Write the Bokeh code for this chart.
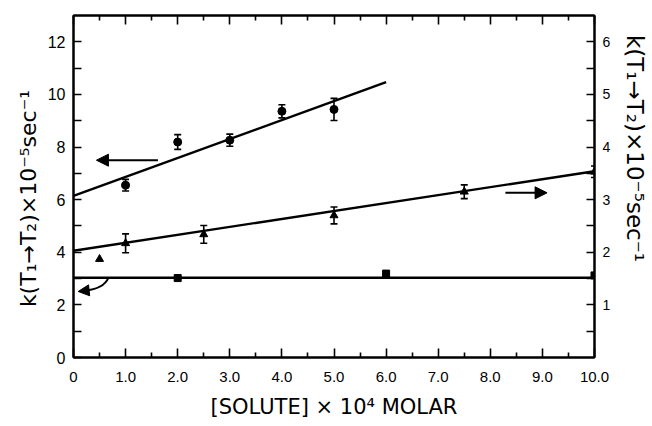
import math
from bokeh.plotting import figure
from bokeh.models import (ColumnDataSource, Range1d, LinearAxis, FixedTicker, Whisker,
                          TeeHead, Arrow, NormalHead, Label)
from bokeh.embed import file_html
from bokeh.resources import INLINE

# ---------------- data ----------------
conc_circle = [1.0, 2.0, 3.0, 4.0, 5.0]
k_circle = [6.55, 8.19, 8.26, 9.36, 9.43]          # left axis
err_circle = [0.22, 0.28, 0.23, 0.25, 0.42]

conc_tri = [0.5, 1.0, 2.5, 5.0, 7.5, 10.0]
k_tri = [1.87, 2.17, 2.34, 2.70, 3.15, 3.53]       # right axis
err_tri = [0.0, 0.18, 0.17, 0.16, 0.13, 0.11]

conc_sq = [2.0, 6.0, 10.0]
k_sq = [3.02, 3.19, 3.12]                           # left axis

fit_circle_x = [0.0, 6.0]
fit_circle_y = [6.14, 10.47]
fit_tri_x = [0.0, 10.0]
fit_tri_y = [2.03, 3.54]
fit_sq_x = [0.0, 10.0]
fit_sq_y = [3.03, 3.03]

x_ticks = [0, 1, 2, 3, 4, 5, 6, 7, 8, 9, 10]
x_tick_labels = ["0", "1.0", "2.0", "3.0", "4.0", "5.0", "6.0", "7.0", "8.0", "9.0", "10.0"]
x_minor = [0.5, 1.5, 2.5, 3.5, 4.5, 5.5, 6.5, 7.5, 8.5, 9.5]
left_ticks = [0, 2, 4, 6, 8, 10, 12]
left_minor = [1, 3, 5, 7, 9, 11]
right_ticks = [1, 2, 3, 4, 5, 6]
right_minor = [0.5, 1.5, 2.5, 3.5, 4.5, 5.5]

y_title = "k(T\u2081\u2192T\u2082)\u00d710\u207b\u2075sec\u207b\u00b9"
x_title = "[SOLUTE] \u00d7 10\u2074 MOLAR"

# ---------------- figure ----------------
W, H = 652, 426
p = figure(width=W, height=H, output_backend="svg", toolbar_location=None,
           x_range=Range1d(0, 10), y_range=Range1d(0, 13),
           min_border_left=73, min_border_right=58, min_border_top=15, min_border_bottom=69)
p.extra_y_ranges = {"right": Range1d(0, 6.5)}
p.xgrid.visible = False
p.ygrid.visible = False
p.outline_line_color = "black"
p.outline_line_width = 2
p.background_fill_color = "white"
p.border_fill_color = "white"

TICK_FONT = "Liberation Sans"
TITLE_FONT = "DejaVu Sans"

def style_axis(ax, tick_len, minor_len, font_size, standoff):
    ax.axis_line_color = "black"
    ax.axis_line_width = 2
    ax.major_tick_in = tick_len
    ax.major_tick_out = 0
    ax.minor_tick_in = minor_len
    ax.minor_tick_out = 0
    ax.major_tick_line_width = 1.6
    ax.minor_tick_line_width = 1.6
    ax.major_tick_line_color = "black"
    ax.minor_tick_line_color = "black"
    ax.major_label_text_font = TICK_FONT
    ax.major_label_text_font_size = font_size
    ax.major_label_text_color = "black"
    ax.major_label_standoff = standoff

# bottom
xa = p.xaxis[0]
xa.ticker = FixedTicker(ticks=x_ticks, minor_ticks=x_minor)
xa.major_label_overrides = {t: l for t, l in zip(x_ticks, x_tick_labels)}
style_axis(xa, 9, 5, "15px", 14)
xa.axis_label = x_title
xa.axis_label_text_font = TITLE_FONT
xa.axis_label_text_font_size = "21px"
xa.axis_label_text_font_style = "normal"
xa.axis_label_text_color = "black"
xa.axis_label_standoff = 10

# left
ya = p.yaxis[0]
ya.ticker = FixedTicker(ticks=left_ticks, minor_ticks=left_minor)
style_axis(ya, 8, 8, "16px", 8)

# right
ra = LinearAxis(y_range_name="right", ticker=FixedTicker(ticks=right_ticks, minor_ticks=right_minor))
style_axis(ra, 8, 8, "14px", 8)
p.add_layout(ra, "right")

# top (ticks only, no labels drawn)
ta = LinearAxis(ticker=FixedTicker(ticks=x_ticks, minor_ticks=x_minor))
style_axis(ta, 9, 5, "1px", 0)
ta.major_label_text_color = None
p.add_layout(ta, "above")

# vertical axis titles (placed in the side panels)
p.add_layout(Label(text=y_title, x=9, y=159, x_units="screen", y_units="screen",
                   angle=math.pi / 2, text_align="center", text_baseline="middle",
                   text_font=TITLE_FONT, text_font_size="22px", text_color="black"), "left")
p.add_layout(Label(text=y_title, x=21, y=209, x_units="screen", y_units="screen",
                   angle=-math.pi / 2, text_align="center", text_baseline="middle",
                   text_font=TITLE_FONT, text_font_size="23px", text_color="black"), "right")

# ---------------- fit lines ----------------
p.line(fit_circle_x, fit_circle_y, line_color="black", line_width=2.4)
p.line(fit_tri_x, fit_tri_y, line_color="black", line_width=2.4, y_range_name="right")
p.line(fit_sq_x, fit_sq_y, line_color="black", line_width=2.4)

# ---------------- error bars ----------------
src_c = ColumnDataSource(dict(x=conc_circle, y=k_circle,
                              lo=[v - e for v, e in zip(k_circle, err_circle)],
                              hi=[v + e for v, e in zip(k_circle, err_circle)]))
p.add_layout(Whisker(source=src_c, base="x", lower="lo", upper="hi", dimension="height",
                     line_width=1.6, line_color="black",
                     lower_head=TeeHead(size=7, line_width=1.6, line_color="black"),
                     upper_head=TeeHead(size=7, line_width=1.6, line_color="black")))

tri_x_e = [c for c, e in zip(conc_tri, err_tri) if e > 0]
tri_lo = [v - e for v, e in zip(k_tri, err_tri) if e > 0]
tri_hi = [v + e for v, e in zip(k_tri, err_tri) if e > 0]
src_t = ColumnDataSource(dict(x=tri_x_e, lo=tri_lo, hi=tri_hi))
p.add_layout(Whisker(source=src_t, base="x", lower="lo", upper="hi", dimension="height",
                     y_range_name="right", line_width=1.6, line_color="black",
                     lower_head=TeeHead(size=7, line_width=1.6, line_color="black"),
                     upper_head=TeeHead(size=7, line_width=1.6, line_color="black")))

# ---------------- markers ----------------
p.scatter(conc_circle, k_circle, marker="circle", size=8, color="black")
p.scatter(conc_tri, k_tri, marker="triangle", size=8, color="black", y_range_name="right")
p.scatter(conc_sq, k_sq, marker="square", size=7, color="black")

# ---------------- arrows (which axis each series uses) ----------------
p.add_layout(Arrow(end=NormalHead(size=12, fill_color="black", line_color="black"),
                   x_start=1.62, y_start=7.5, x_end=0.44, y_end=7.5,
                   line_width=2, line_color="black"))
p.add_layout(Arrow(end=NormalHead(size=12, fill_color="black", line_color="black"),
                   x_start=8.29, y_start=3.13, x_end=9.09, y_end=3.13, y_range_name="right",
                   line_width=2, line_color="black"))
p.bezier(x0=[0.67], y0=[3.03], x1=[0.22], y1=[2.55], cx0=[0.6], cy0=[2.72],
         cx1=[0.4], cy1=[2.58], line_color="black", line_width=2)
p.add_layout(Arrow(end=NormalHead(size=11, fill_color="black", line_color="black"),
                   x_start=0.26, y_start=2.545, x_end=0.09, y_end=2.51,
                   line_width=2, line_color="black"))

open("out.html", "w").write(file_html(p, INLINE))
